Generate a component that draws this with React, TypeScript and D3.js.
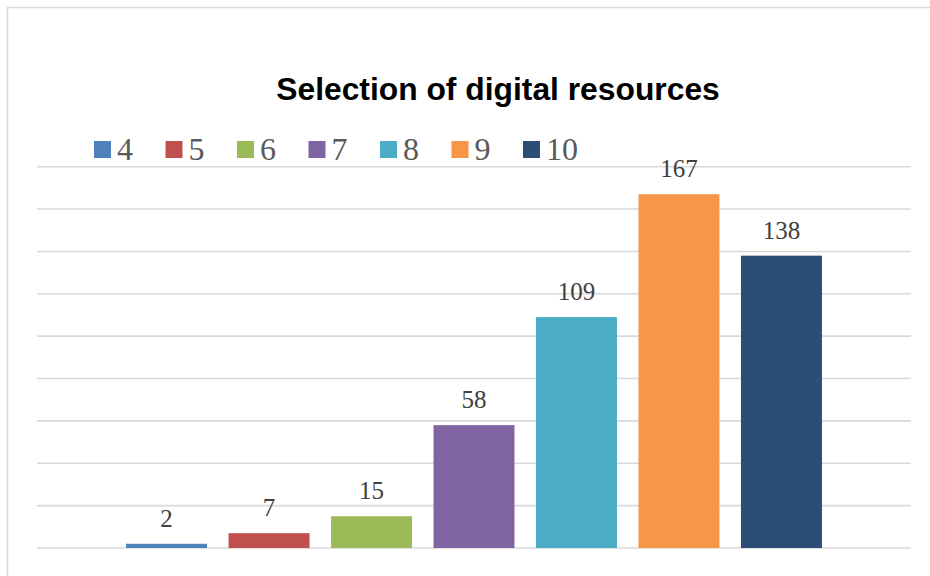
import { useEffect, useRef } from 'react'
import * as d3 from 'd3'

const series = ['4', '5', '6', '7', '8', '9', '10']
const values = [2, 7, 15, 58, 109, 167, 138]
const colors = ['#4F81BD', '#C0504D', '#9BBB59', '#8064A2', '#4BACC6', '#F79646', '#2C4D75']
const yTicks = [0, 20, 40, 60, 80, 100, 120, 140, 160, 180]
const title = 'Selection of digital resources'

const W = 930
const H = 576

export default function App() {
  const svgRef = useRef<SVGSVGElement | null>(null)

  useEffect(() => {
    const svgEl = svgRef.current
    if (!svgEl) return
    const svg = d3.select(svgEl)
    svg.selectAll('*').remove()

    const plot = { left: 37, right: 911, top: 166.7, bottom: 548 }

    // chart border (runs off the right / bottom edge like the reference)
    svg
      .append('rect')
      .attr('x', 7.5)
      .attr('y', 7.5)
      .attr('width', W + 10)
      .attr('height', H + 10)
      .attr('fill', '#ffffff')
      .attr('stroke', '#d9d9d9')
      .attr('stroke-width', 1.5)

    const y = d3.scaleLinear().domain([0, 180]).range([plot.bottom, plot.top])

    // one category holding all series, centred in the plot area
    const cat = d3.scaleBand<string>().domain(['all']).range([plot.left, plot.right]).paddingOuter(0.128)
    const x = d3
      .scaleBand<string>()
      .domain(series)
      .range([cat('all') ?? 0, (cat('all') ?? 0) + cat.bandwidth()])
      .paddingInner(0.21)

    svg
      .append('g')
      .selectAll('line')
      .data(yTicks)
      .enter()
      .append('line')
      .attr('x1', plot.left)
      .attr('x2', plot.right)
      .attr('y1', (d) => y(d))
      .attr('y2', (d) => y(d))
      .attr('stroke', '#d9d9d9')
      .attr('stroke-width', 1.6)

    const data = series.map((s, i) => ({ s, v: values[i], c: colors[i] }))

    svg
      .append('g')
      .selectAll('rect')
      .data(data)
      .enter()
      .append('rect')
      .attr('x', (d) => x(d.s) ?? 0)
      .attr('y', (d) => y(d.v))
      .attr('width', x.bandwidth())
      .attr('height', (d) => y(0) - y(d.v))
      .attr('fill', (d) => d.c)

    svg
      .append('g')
      .selectAll('text')
      .data(data)
      .enter()
      .append('text')
      .attr('x', (d) => (x(d.s) ?? 0) + x.bandwidth() / 2)
      .attr('y', (d) => y(d.v) - 17)
      .attr('text-anchor', 'middle')
      .attr('font-family', '"Liberation Serif", serif')
      .attr('font-size', 25)
      .attr('fill', '#404040')
      .text((d) => String(d.v))

    svg
      .append('text')
      .attr('x', 498)
      .attr('y', 100)
      .attr('text-anchor', 'middle')
      .attr('font-family', '"Liberation Sans", Arial, sans-serif')
      .attr('font-weight', 'bold')
      .attr('font-size', 31.8)
      .attr('fill', '#000000')
      .text(title)

    // legend
    const legend = svg.append('g')
    const step = 71.5
    data.forEach((d, i) => {
      const lx = 94 + i * step
      legend
        .append('rect')
        .attr('x', lx)
        .attr('y', 141)
        .attr('width', 17)
        .attr('height', 17)
        .attr('fill', d.c)
      legend
        .append('text')
        .attr('x', lx + 23)
        .attr('y', 159.5)
        .attr('font-family', '"Liberation Serif", serif')
        .attr('font-size', 32)
        .attr('fill', '#595959')
        .text(d.s)
    })
  }, [])

  return (
    <svg
      ref={svgRef}
      width={W}
      height={H}
      style={{ position: 'absolute', left: 0, top: 0, background: '#ffffff' }}
    />
  )
}
